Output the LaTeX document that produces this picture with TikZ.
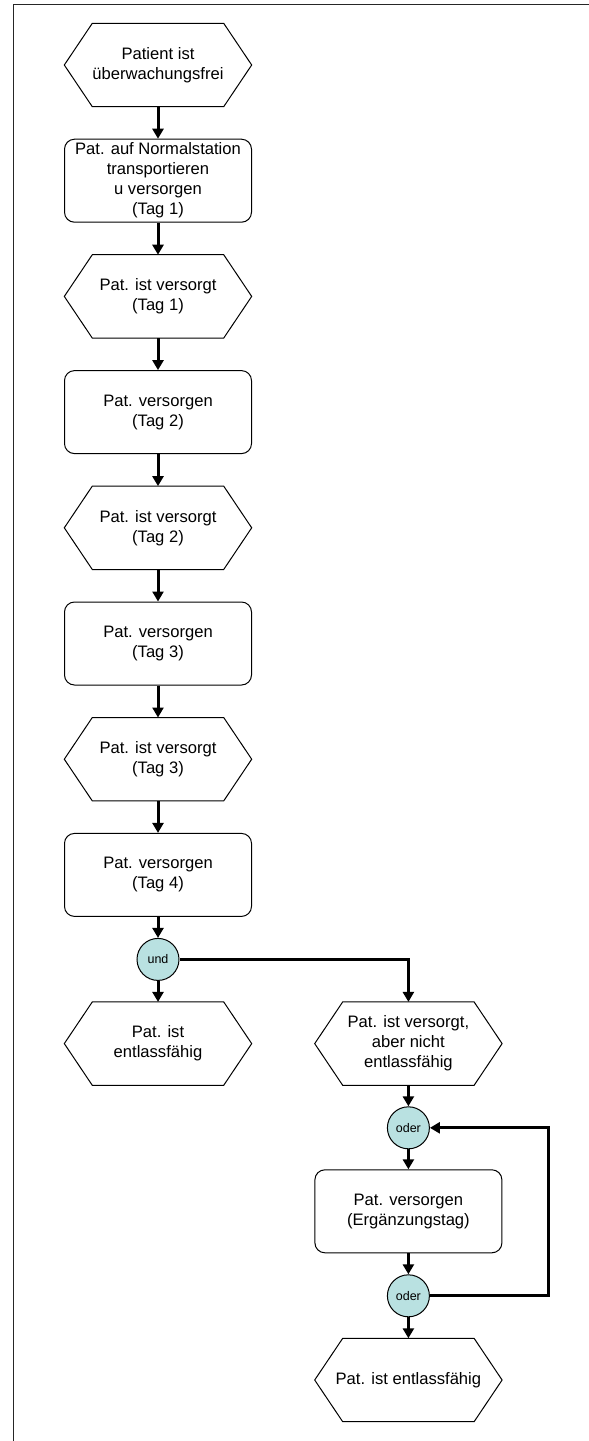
\documentclass[tikz,border=0pt]{standalone}
\usepackage{fontspec}
\setmainfont{Liberation Sans}
\usepackage{xcolor}
\usepackage{tikz}
\usetikzlibrary{arrows.meta, positioning}
\definecolor{knotcyan}{RGB}{185,225,225}

\begin{document}
\begin{tikzpicture}[x=1pt, y=-1pt,
  every node/.style={font=\fontsize{16.6}{20}\selectfont, align=center},
  func/.style={draw, line width=1pt, rounded corners=10pt,
    minimum width=187pt, minimum height=83pt, inner sep=0pt},
  event/.style={minimum width=187pt, minimum height=83pt, inner sep=0pt},
  knot/.style={draw, line width=1pt, circle, fill=knotcyan, minimum size=42pt,
    inner sep=0pt, font=\fontsize{12.5}{14}\selectfont},
  flow/.style={-{Triangle[length=10pt,width=11pt]}, line width=3pt}]
  \def\hexa#1{
    \draw[line width=1pt] (#1.west) -- ([xshift=28pt]#1.north west)
      -- ([xshift=-28pt]#1.north east) -- (#1.east)
      -- ([xshift=-28pt]#1.south east) -- ([xshift=28pt]#1.south west) -- cycle;
  }
  \useasboundingbox (0,0) rectangle (589,1441);
  \draw[line width=1.5pt, black!85] (589,4.5) -- (13.5,4.5) -- (13.5,1441);

  % main column
  \node[event] (ev1) at (158,65) {Patient ist\\überwachungsfrei};
  \node[func, below=32pt of ev1] (fn1) {Pat. auf Normalstation\\transportieren\\u versorgen\\(Tag 1)};
  \node[event, below=32pt of fn1] (ev2) {Pat. ist versorgt\\(Tag 1)};
  \node[func, below=32pt of ev2] (fn2) {Pat. versorgen\\(Tag 2)};
  \node[event, below=32pt of fn2] (ev3) {Pat. ist versorgt\\(Tag 2)};
  \node[func, below=32pt of ev3] (fn3) {Pat. versorgen\\(Tag 3)};
  \node[event, below=32pt of fn3] (ev4) {Pat. ist versorgt\\(Tag 3)};
  \node[func, below=32pt of ev4] (fn4) {Pat. versorgen\\(Tag 4)};
  \node[knot, below=21pt of fn4] (und) {und};
  \node[event, below=21pt of und] (ev5) {Pat. ist\\entlassfähig};

  % side branch
  \node[event, right=63pt of ev5] (ev6) {Pat. ist versorgt,\\aber nicht\\entlassfähig};
  \node[knot, below=21pt of ev6] (oder1) {oder};
  \node[func, below=20pt of oder1] (fn5) {Pat. versorgen\\(Ergänzungstag)};
  \node[knot, below=21pt of fn5] (oder2) {oder};
  \node[event, below=21pt of oder2] (ev7) {Pat. ist entlassfähig};

  \foreach \e in {ev1,ev2,ev3,ev4,ev5,ev6,ev7} {\hexa{\e}}

  \draw[flow] (ev1) -- (fn1);
  \draw[flow] (fn1) -- (ev2);
  \draw[flow] (ev2) -- (fn2);
  \draw[flow] (fn2) -- (ev3);
  \draw[flow] (ev3) -- (fn3);
  \draw[flow] (fn3) -- (ev4);
  \draw[flow] (ev4) -- (fn4);
  \draw[flow] (fn4) -- (und);
  \draw[flow] (und) -- (ev5);
  \draw[flow] (und.east) -| (ev6.north);
  \draw[flow] (ev6) -- (oder1);
  \draw[flow] (oder1) -- (fn5);
  \draw[flow] (fn5) -- (oder2);
  \draw[flow] (oder2) -- (ev7);
  \draw[flow] (oder2.east) -- ++(119,0) |- (oder1.east);
\end{tikzpicture}
\end{document}
